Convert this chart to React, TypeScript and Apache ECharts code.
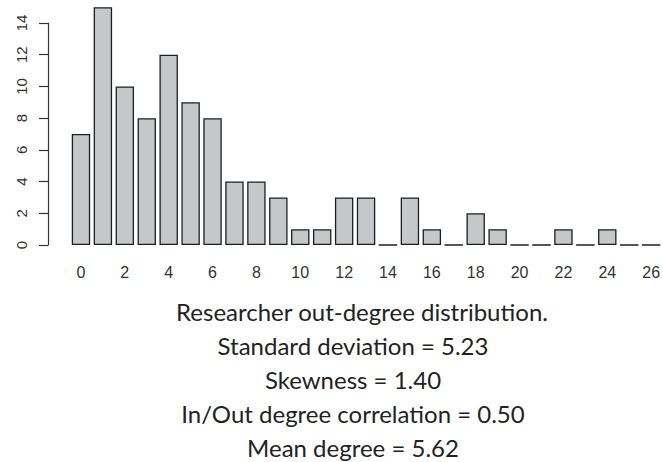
import React, { useEffect, useRef } from "react";
import * as echarts from "echarts";

const categories = ["0","1","2","3","4","5","6","7","8","9","10","11","12","13","14","15","16","17","18","19","20","21","22","23","24","25","26"];
const counts = [7, 15, 10, 8, 12, 9, 8, 4, 4, 3, 1, 1, 3, 3, 0, 3, 1, 0, 2, 1, 0, 0, 1, 0, 1, 0, 0];
const yTicks = { min: 0, max: 14, interval: 2 };
const captionLines = [
  "Researcher out-degree distribution.",
  "Standard deviation = 5.23",
  "Skewness = 1.40",
  "In/Out degree correlation = 0.50",
  "Mean degree = 5.62",
];

export default function App() {
  const ref = useRef<HTMLDivElement>(null);
  useEffect(() => {
    if (!ref.current) return;
    const chart = echarts.init(ref.current, null, { renderer: "svg" });
    const captionY = [311, 345, 379, 413, 447];
    const captionX = [362, 353, 353, 353, 353];
    chart.setOption({
      animation: false,
      backgroundColor: "#ffffff",
      grid: { left: 70, width: 594, top: 23, bottom: 217, containLabel: false },
      xAxis: {
        type: "category",
        data: categories,
        axisLine: { show: false },
        axisTick: { show: false },
        axisLabel: {
          interval: 1,
          margin: 19,
          fontSize: 16,
          color: "#333333",
          fontFamily: "Liberation Sans, Arial, sans-serif",
        },
      },
      yAxis: {
        type: "value",
        min: yTicks.min,
        max: yTicks.max,
        interval: yTicks.interval,
        offset: 22,
        splitLine: { show: false },
        axisLine: { show: true, lineStyle: { color: "#333333", width: 1.2 } },
        axisTick: { show: true, length: 9, lineStyle: { color: "#333333", width: 1.2 } },
        axisLabel: {
          rotate: 90,
          margin: 19,
          fontSize: 15,
          color: "#333333",
          fontFamily: "Liberation Sans, Arial, sans-serif",
        },
      },
      series: [
        {
          type: "bar",
          data: counts,
          clip: false,
          barCategoryGap: "16%",
          itemStyle: { color: "#c6c7c9", borderColor: "#1e1e1e", borderWidth: 1.3 },
        },
      ],
      graphic: captionLines.map((t, i) => ({
        type: "text",
        x: captionX[i],
        y: captionY[i],
        style: {
          text: t,
          fill: "#222222",
          font: "24px Lato, 'Open Sans', sans-serif",
          textAlign: "center",
          textVerticalAlign: "middle",
        },
      })),
    });
    return () => chart.dispose();
  }, []);
  return (
    <div
      ref={ref}
      style={{ position: "absolute", left: 0, top: 0, width: 663, height: 462 }}
    />
  );
}
